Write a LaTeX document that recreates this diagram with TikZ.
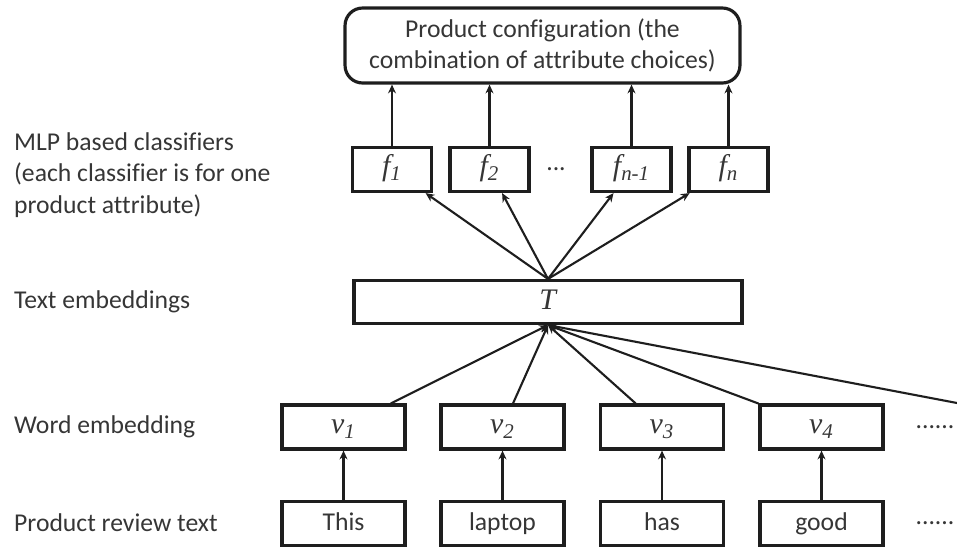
\documentclass[tikz,border=0pt]{standalone}
\usepackage{fontspec}
\setmainfont{Carlito}[Ligatures={NoCommon}]
\newfontfamily\tnr{Liberation Serif}
\usetikzlibrary{arrows.meta}
\definecolor{ink}{HTML}{1E1E1E}
\definecolor{txt}{HTML}{363636}
\newcommand{\sym}[2]{{\tnr\itshape\fontsize{17}{20}\selectfont #1\textsubscript{#2}}}
\begin{document}
\begin{tikzpicture}[x=0.02cm, y=-0.02cm,
  every node/.style={font=\fontsize{14.6}{18}\selectfont, text=txt},
  box/.style={draw=ink, line width=1.8pt, inner sep=0pt},
  wbox/.style={box, minimum width=2.46cm, minimum height=0.88cm, text height=10.5pt, text depth=3pt},
  fbox/.style={box, minimum width=1.58cm, minimum height=0.88cm, text height=11pt, text depth=4pt},
  arr/.style={draw=ink, line width=1.2pt, -{Stealth[length=5pt, width=4.5pt]}}]
\useasboundingbox (0,0) rectangle (957,549);
% left column
\node[anchor=west, align=left] (Lmlp) at (8,175) {MLP based classifiers\\(each classifier is for one\\product attribute)};
\node[anchor=west] (Ltext) at (8,302) {Text embeddings};
\node[anchor=west] (Lword) at (8,427) {Word embedding};
\node[anchor=west] (Lrev) at (8,523) {Product review text};
% top box
\node[box, rounded corners=10pt, minimum width=7.9cm, minimum height=1.5cm, align=center] (C) at (542.5,45.5) {Product configuration (the\\combination of attribute choices)};
% classifiers
\node[fbox] (f1) at (392,169.5) {\sym{f}{1}};
\node[fbox] (f2) at (489.5,169.5) {\sym{f}{2}};
\node (fdots) at (556,169.5) {...};
\node[fbox] (f3) at (631.5,169.5) {\sym{f}{n-1}};
\node[fbox] (f4) at (728.5,169.5) {\sym{f}{n}};
% text embedding
\node[box, minimum width=7.76cm, minimum height=0.86cm] (T) at (548,302) {\sym{T}{}};
% word embeddings
\node[wbox] (v1) at (343.5,427) {\sym{v}{1}};
\node[wbox] (v2) at (502.5,427) {\sym{v}{2}};
\node[wbox] (v3) at (662,427) {\sym{v}{3}};
\node[wbox] (v4) at (821.5,427) {\sym{v}{4}};
\node (vdots) at (935,427) {......};
% words
\node[wbox] (w1) at (343.5,523.5) {This};
\node[wbox] (w2) at (502.5,523.5) {laptop};
\node[wbox] (w3) at (662,523.5) {has};
\node[wbox] (w4) at (821.5,523.5) {good};
\node (wdots) at (935,523.5) {......};
\coordinate (more) at (957,403);
% connectors
\foreach \i in {1,...,4} {
  \draw[arr] (f\i) -- (f\i |- C.south);
  \draw[arr] (T.north) -- (f\i);
  \draw[arr] (v\i) -- (T.south);
  \draw[arr] (w\i) -- (v\i);
}
\draw[arr] (more) -- (T.south);
\end{tikzpicture}
\end{document}
